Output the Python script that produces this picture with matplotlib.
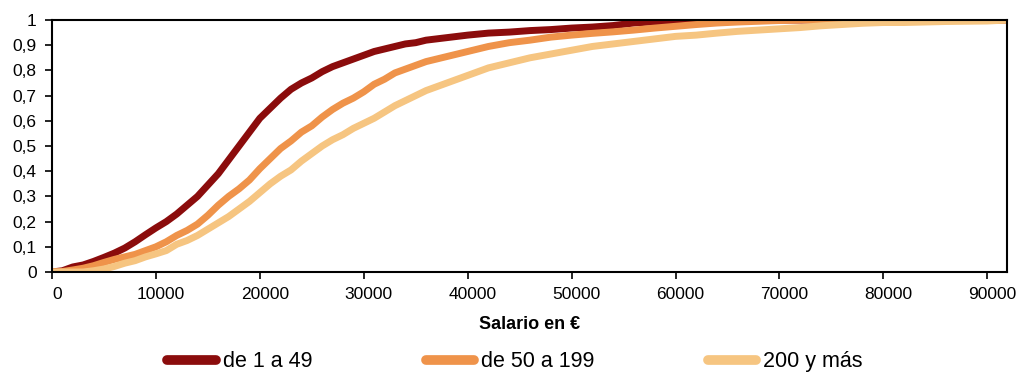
import matplotlib
matplotlib.use("Agg")
import matplotlib.pyplot as plt
import matplotlib.transforms as mtransforms
from matplotlib.ticker import FuncFormatter, MultipleLocator

plt.rcParams["font.family"] = ["Liberation Sans", "DejaVu Sans"]

# salario en euros (eje x)
salario = list(range(0, 41000, 1000)) + list(range(42000, 94000, 2000))

# distribución acumulada por tamaño de empresa
peq = [0, 0.005, 0.02, 0.028, 0.042, 0.058, 0.075, 0.095, 0.12, 0.148,
       0.175, 0.2, 0.23, 0.265, 0.3, 0.345, 0.39, 0.445, 0.5, 0.555,
       0.61, 0.65, 0.69, 0.725, 0.75, 0.77, 0.795, 0.815, 0.83, 0.845,
       0.86, 0.875, 0.885, 0.895, 0.905, 0.91, 0.92, 0.925, 0.93, 0.935,
       0.94,
       0.948, 0.952, 0.958, 0.962, 0.968, 0.972, 0.978, 0.988, 0.993, 0.996,
       0.998, 1.0, 1.0, 1.0, 1.0, 1.0, 1.0, 1.0, 1.0, 1.0,
       1.0, 1.0, 1.0, 1.0, 1.0, 1.0]
med = [0, 0.002, 0.008, 0.015, 0.025, 0.038, 0.05, 0.06, 0.07, 0.085,
       0.1, 0.12, 0.145, 0.165, 0.19, 0.225, 0.265, 0.3, 0.33, 0.365,
       0.41, 0.45, 0.49, 0.52, 0.555, 0.58, 0.615, 0.645, 0.67, 0.69,
       0.715, 0.745, 0.765, 0.79, 0.805, 0.82, 0.835, 0.845, 0.855, 0.865,
       0.875,
       0.895, 0.91, 0.92, 0.932, 0.94, 0.947, 0.953, 0.96, 0.968, 0.975,
       0.982, 0.988, 0.992, 0.995, 0.998, 1.0, 1.0, 1.0, 1.0, 1.0,
       1.0, 1.0, 1.0, 1.0, 1.0, 1.0]
gra = [0, 0, 0, 0, 0.005, 0.012, 0.022, 0.035, 0.045, 0.06,
       0.072, 0.085, 0.11, 0.125, 0.145, 0.17, 0.195, 0.22, 0.25, 0.28,
       0.315, 0.35, 0.38, 0.405, 0.44, 0.47, 0.5, 0.525, 0.545, 0.57,
       0.59, 0.61, 0.635, 0.66, 0.68, 0.7, 0.72, 0.735, 0.75, 0.765,
       0.78,
       0.81, 0.83, 0.85, 0.865, 0.88, 0.895, 0.905, 0.915, 0.925, 0.935,
       0.94, 0.948, 0.955, 0.96, 0.965, 0.97, 0.977, 0.982, 0.987, 0.99,
       0.99, 0.992, 0.994, 0.995, 0.996, 1.0]

series = [
    ("de 1 a 49", peq, "#8b0c0c"),
    ("de 50 a 199", med, "#ef934a"),
    ("200 y más", gra, "#f6c581"),
]

fig = plt.figure(figsize=(10.18, 3.72), dpi=100)
ax = fig.add_axes([52 / 1018, 100 / 372, 955 / 1018, 252 / 372])

for label, vals, col in series:
    ax.plot(salario, vals, color=col, lw=5, label=label,
            solid_capstyle="butt", solid_joinstyle="round")

ax.set_xlim(0, 91900)
ax.set_ylim(0, 1)
ax.xaxis.set_major_locator(MultipleLocator(10000))
ax.yaxis.set_major_locator(MultipleLocator(0.1))
ax.yaxis.set_major_formatter(
    FuncFormatter(lambda v, p: f"{v:.1f}".replace(".", ",").replace(",0", "")))
ax.tick_params(direction="out", length=5, width=1.2, labelsize=12.5,
               colors="black")
ax.tick_params(axis="x", pad=6)
ax.tick_params(axis="y", pad=6)
# etiquetas del eje x algo desplazadas a la derecha, como en Excel
shift = mtransforms.ScaledTranslation(5 / 100, 0, fig.dpi_scale_trans)
for t in ax.get_xticklabels():
    t.set_transform(t.get_transform() + shift)
for s in ax.spines.values():
    s.set_linewidth(1.5)
    s.set_color("black")
ax.set_xlabel("Salario en €", fontsize=13, fontweight="bold", labelpad=10)

leg = fig.legend(loc="center", bbox_to_anchor=(0.506, 0.027), ncol=3,
                 frameon=False, fontsize=15.5, handlelength=2.26,
                 handletextpad=0.33, columnspacing=5.25, borderpad=0)
for h in leg.get_lines():
    h.set_linewidth(7)
    h.set_solid_capstyle("round")

fig.savefig("out.png", dpi=100)
